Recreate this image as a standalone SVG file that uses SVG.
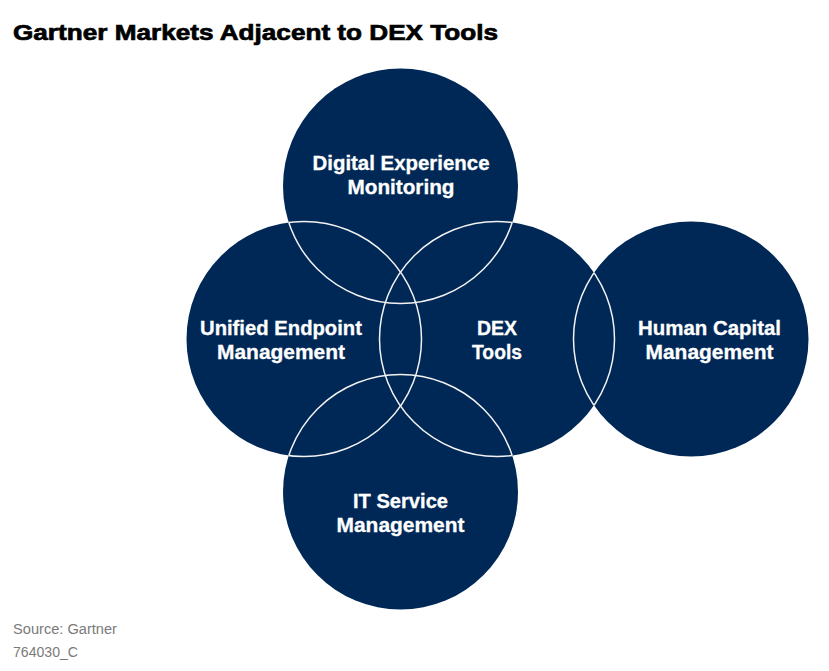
<svg xmlns="http://www.w3.org/2000/svg" width="829" height="671" viewBox="0 0 829 671">
  <style>
    .disk { fill: #002856; }
    .lbl { font-family: "Liberation Sans", Arial, sans-serif; font-weight: bold; font-size: 19.5px; fill: #ffffff; text-anchor: middle; stroke: #ffffff; stroke-width: 0.3; }
    .ring { fill: none; stroke: #f2f2f2; stroke-width: 1.5; }
    .title { font-family: "Liberation Sans", Arial, sans-serif; font-weight: bold; font-size: 22px; fill: #000000; stroke: #000000; stroke-width: 0.7; }
    .foot { font-family: "Liberation Sans", Arial, sans-serif; font-size: 14px; fill: #7a7a7a; }
  </style>
  <defs>
    <clipPath id="cL">
      <circle cx="497" cy="339" r="117.5"/>
      <circle cx="400.5" cy="186" r="117.5"/>
      <circle cx="400.5" cy="492" r="117.5"/>
    </clipPath>
    <clipPath id="cM">
      <circle cx="304" cy="339" r="117.5"/>
      <circle cx="691" cy="339" r="117.5"/>
      <circle cx="400.5" cy="186" r="117.5"/>
      <circle cx="400.5" cy="492" r="117.5"/>
    </clipPath>
    <clipPath id="cR">
      <circle cx="497" cy="339" r="117.5"/>
    </clipPath>
    <clipPath id="cTB">
      <circle cx="304" cy="339" r="117.5"/>
      <circle cx="497" cy="339" r="117.5"/>
    </clipPath>
  </defs>

  <rect x="0" y="0" width="829" height="671" fill="#ffffff"/>

  <text class="title" x="13" y="40" textLength="485" lengthAdjust="spacingAndGlyphs">Gartner Markets Adjacent to DEX Tools</text>

  <g id="node-dem">
    <circle class="disk" cx="400.5" cy="186" r="117.5"/>
    <text class="lbl" x="401" y="170" textLength="177" lengthAdjust="spacingAndGlyphs">Digital Experience</text>
    <text class="lbl" x="401" y="194" textLength="107" lengthAdjust="spacingAndGlyphs">Monitoring</text>
  </g>
  <g id="node-uem">
    <circle class="disk" cx="304" cy="339" r="117.5"/>
    <text class="lbl" x="281" y="335" textLength="162" lengthAdjust="spacingAndGlyphs">Unified Endpoint</text>
    <text class="lbl" x="281" y="359" textLength="128" lengthAdjust="spacingAndGlyphs">Management</text>
  </g>
  <g id="node-dex">
    <circle class="disk" cx="497" cy="339" r="117.5"/>
    <text class="lbl" x="497" y="335" textLength="40" lengthAdjust="spacingAndGlyphs">DEX</text>
    <text class="lbl" x="497" y="359" textLength="50" lengthAdjust="spacingAndGlyphs">Tools</text>
  </g>
  <g id="node-hcm">
    <circle class="disk" cx="691" cy="339" r="117.5"/>
    <text class="lbl" x="709.5" y="335" textLength="143" lengthAdjust="spacingAndGlyphs">Human Capital</text>
    <text class="lbl" x="709.5" y="359" textLength="128" lengthAdjust="spacingAndGlyphs">Management</text>
  </g>
  <g id="node-itsm">
    <circle class="disk" cx="400.5" cy="492" r="117.5"/>
    <text class="lbl" x="400.5" y="508" textLength="95" lengthAdjust="spacingAndGlyphs">IT Service</text>
    <text class="lbl" x="400.5" y="532" textLength="128" lengthAdjust="spacingAndGlyphs">Management</text>
  </g>

  <g id="connectors">
    <circle class="ring" cx="304" cy="339" r="117.5" clip-path="url(#cL)"/>
    <circle class="ring" cx="497" cy="339" r="117.5" clip-path="url(#cM)"/>
    <circle class="ring" cx="691" cy="339" r="117.5" clip-path="url(#cR)"/>
    <circle class="ring" cx="400.5" cy="186" r="117.5" clip-path="url(#cTB)"/>
    <circle class="ring" cx="400.5" cy="492" r="117.5" clip-path="url(#cTB)"/>
  </g>

  <text class="foot" x="13" y="634" textLength="104" lengthAdjust="spacingAndGlyphs">Source: Gartner</text>
  <text class="foot" x="13" y="657" textLength="65" lengthAdjust="spacingAndGlyphs" fill="#8a8a8a">764030_C</text>
</svg>
